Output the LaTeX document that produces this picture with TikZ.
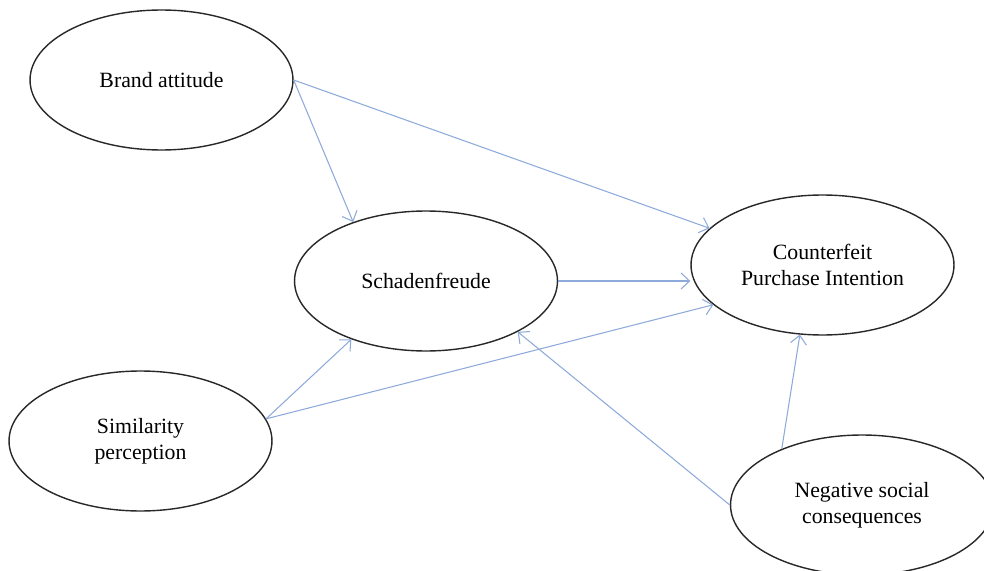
\documentclass[tikz,border=0pt]{standalone}
\usepackage{fontspec}
\setmainfont{Liberation Serif}
\usetikzlibrary{shapes.geometric,arrows.meta}
\definecolor{linkblue}{RGB}{142,170,219}
\definecolor{rimgray}{RGB}{40,40,40}
\begin{document}
\begin{tikzpicture}[x=0.02cm,y=-0.02cm,
  construct/.style={ellipse,draw=rimgray,line width=0.8pt,fill=white,
    minimum width=5.26cm,minimum height=2.8cm,inner sep=0pt,align=center,
    font=\fontsize{12.4}{15}\selectfont},
  path/.style={draw=linkblue,line width=0.6pt,
    -{Straight Barb[length=1.7mm,width=3.2mm]}}]
\clip (0,0) rectangle (984,571);
\fill[white] (0,0) rectangle (984,571);

% constructs
\node[construct] (ba)  at (161.5,80)  {Brand attitude};
\node[construct] (sch) at (426,281)   {Schadenfreude};
\node[construct] (cpi) at (822.5,265) {Counterfeit\\Purchase Intention};
\node[construct] (sim) at (140.5,441) {Similarity\\perception};
\node[construct] (neg) at (862,505)   {Negative social\\consequences};

% hypothesised paths
\draw[path] (ba.east) -- (sch.141.8);
\draw[path] (ba.east) -- (cpi.162.5);
\draw[path] (sch.east) -- (sch.east -| cpi.west);
\draw[path] (sim.10.8) -- (sch.218.6);
\draw[path] (sim.10.8) -- (cpi.200.5);
\draw[path] (neg.west) -- (sch.331.3);
\draw[path] (neg.145) -- (cpi.252.6);
\end{tikzpicture}
\end{document}
